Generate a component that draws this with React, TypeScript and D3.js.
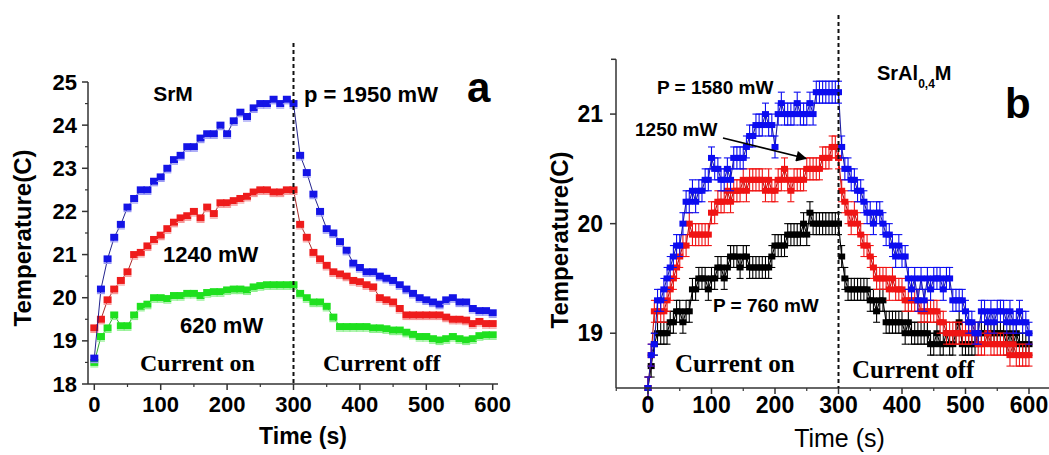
import React from 'react';
import * as d3 from 'd3';

// ---------- Panel a (SrM) : sampled every 10 s ----------
const timeA = d3.range(0, 601, 10);
const blueA = [18.6, 20.2, 20.9, 21.4, 21.7, 22.1, 22.3, 22.5, 22.5, 22.7, 22.8, 23.0, 23.2, 23.3, 23.5, 23.5, 23.7, 23.8, 23.8, 24.0, 23.8, 24.1, 24.3, 24.2, 24.4, 24.5, 24.5, 24.6, 24.5, 24.6, 24.5,
  23.3, 22.9, 22.4, 22.0, 21.6, 21.5, 21.3, 21.1, 20.8, 20.7, 20.6, 20.6, 20.5, 20.45, 20.4, 20.3, 20.2, 20.1, 20.0, 19.95, 19.9, 19.85, 19.95, 20.0, 19.9, 19.9, 19.75, 19.7, 19.7, 19.65];
const redA = [19.3, 19.5, 19.95, 20.2, 20.4, 20.6, 21.0, 21.05, 21.2, 21.35, 21.45, 21.6, 21.75, 21.85, 21.9, 22.0, 21.85, 22.1, 21.95, 22.2, 22.2, 22.25, 22.3, 22.35, 22.45, 22.5, 22.5, 22.45, 22.45, 22.5, 22.5,
  21.7, 21.4, 21.05, 20.9, 20.75, 20.6, 20.55, 20.5, 20.4, 20.37, 20.3, 20.25, 20.0, 19.95, 19.9, 19.75, 19.6, 19.6, 19.6, 19.6, 19.6, 19.6, 19.55, 19.5, 19.5, 19.48, 19.4, 19.45, 19.4, 19.4];
const greenA = [18.5, 19.1, 19.3, 19.6, 19.35, 19.35, 19.6, 19.8, 19.85, 20.0, 20.0, 19.98, 20.05, 20.05, 20.1, 20.1, 20.05, 20.12, 20.14, 20.14, 20.18, 20.2, 20.2, 20.18, 20.25, 20.28, 20.3, 20.3, 20.3, 20.3, 20.3,
  20.1, 20.0, 19.9, 19.9, 19.8, 19.55, 19.33, 19.33, 19.33, 19.33, 19.33, 19.3, 19.3, 19.28, 19.25, 19.25, 19.2, 19.15, 19.1, 19.1, 19.05, 19.02, 19.05, 19.1, 19.05, 19.02, 19.05, 19.12, 19.14, 19.14];

// ---------- Panel b (SrAl0,4M) : sampled every 5 s ----------
const timeB = d3.range(0, 601, 5);
const blueB = [18.5, 18.8, 18.9, 19.3, 19.3, 19.4, 19.5, 19.6, 19.7, 19.8, 19.8, 20.0, 20.2, 20.2, 20.3, 20.2, 20.3, 20.3, 20.4, 20.4,
  20.6, 20.5, 20.5, 20.4, 20.4, 20.5, 20.4, 20.6, 20.6, 20.6, 20.6, 20.7, 20.8, 20.8, 20.9, 20.9, 20.9, 21.0, 20.9, 20.9,
  20.7, 21.0, 21.1, 21.0, 21.0, 21.0, 21.0, 21.1, 21.0, 21.0, 21.0, 21.1, 21.0, 21.2, 21.2, 21.2, 21.2, 21.2, 21.2, 21.2, 21.2,
  20.7, 20.5, 20.5, 20.4, 20.4, 20.3, 20.3, 20.2, 20.1, 20.1, 20.0, 20.1, 20.1, 20.0, 19.9, 19.9, 19.8, 19.7, 19.8, 19.7,
  19.7, 19.5, 19.4, 19.5, 19.3, 19.5, 19.3, 19.5, 19.4, 19.5, 19.5, 19.5, 19.4, 19.5, 19.5, 19.3, 19.3, 19.3, 19.3, 19.2,
  19.1, 19.1, 19.0, 19.0, 19.2, 19.2, 19.1, 19.2, 19.1, 19.2, 19.2, 19.2, 19.1, 19.2, 19.1, 19.1, 19.2, 19.1, 19.1, 19.0];
const redB = [18.5, 18.8, 19.2, 19.2, 19.2, 19.2, 19.3, 19.4, 19.5, 19.6, 19.7, 19.8, 19.8, 20.0, 19.9, 19.9, 19.9, 19.9, 19.9, 19.9,
  20.1, 20.1, 20.2, 20.2, 20.2, 20.3, 20.2, 20.3, 20.3, 20.3, 20.4, 20.3, 20.4, 20.4, 20.4, 20.4, 20.4, 20.3, 20.4, 20.3,
  20.3, 20.4, 20.4, 20.5, 20.4, 20.3, 20.4, 20.4, 20.4, 20.4, 20.5, 20.5, 20.5, 20.5, 20.5, 20.6, 20.6, 20.6, 20.7, 20.7, 20.6,
  20.3, 20.2, 20.1, 20.0, 20.1, 20.0, 19.9, 19.8, 19.8, 19.7, 19.6, 19.5, 19.5, 19.5, 19.5, 19.4, 19.5, 19.4, 19.4, 19.4,
  19.3, 19.3, 19.3, 19.3, 19.3, 19.2, 19.2, 19.2, 19.2, 19.2, 19.2, 19.1, 19.1, 19.0, 19.0, 19.0, 19.0, 19.0, 19.0, 19.0,
  19.0, 19.0, 19.0, 18.9, 18.9, 18.9, 19.0, 18.9, 18.9, 18.9, 18.9, 18.9, 18.9, 18.8, 18.9, 18.8, 18.8, 18.8, 18.8, 18.8];
const blackB = [18.5, 18.7, 18.9, 19.0, 19.0, 19.0, 19.0, 19.1, 19.1, 19.2, 19.2, 19.1, 19.2, 19.2, 19.4, 19.4, 19.5, 19.5, 19.5, 19.4,
  19.5, 19.5, 19.6, 19.6, 19.5, 19.6, 19.7, 19.7, 19.7, 19.6, 19.7, 19.7, 19.6, 19.6, 19.6, 19.6, 19.6, 19.6, 19.6, 19.7,
  19.8, 19.8, 19.8, 19.8, 19.9, 19.9, 19.9, 19.9, 19.9, 20.0, 19.9, 20.1, 20.0, 20.0, 20.0, 20.0, 20.0, 20.0, 20.0, 20.0, 20.0,
  19.7, 19.5, 19.4, 19.4, 19.4, 19.4, 19.4, 19.4, 19.4, 19.3, 19.3, 19.2, 19.3, 19.3, 19.1, 19.1, 19.1, 19.1, 19.1, 19.1,
  19.0, 19.1, 19.0, 19.0, 19.0, 19.0, 19.0, 19.0, 18.9, 18.9, 19.0, 18.9, 18.9, 19.0, 18.9, 18.9, 19.0, 19.1, 18.9, 18.9,
  18.9, 18.9, 18.9, 19.0, 19.0, 19.0, 19.0, 19.0, 19.0, 19.0, 19.0, 19.0, 18.9, 19.0, 18.9, 19.0, 18.9, 18.9, 18.9, 18.9];
const errB = 0.1;

const xTicks = [0, 100, 200, 300, 400, 500, 600];
const xMinorA = [50, 150, 250, 350, 450, 550];
const xMinorB = [-50, 50, 150, 250, 350, 450, 550, 650];
const yTicksA = [18, 19, 20, 21, 22, 23, 24, 25];
const yMinorA = [18.5, 19.5, 20.5, 21.5, 22.5, 23.5, 24.5];
const yTicksB = [19, 20, 21];

const SANS = '"Liberation Sans", Arial, sans-serif';
const SERIF = '"Liberation Serif", "Times New Roman", serif';

export default function App() {
  // panel a scales
  const xa = d3.scaleLinear().domain([0, 600]).range([94.3, 492.7]);
  const ya = d3.scaleLinear().domain([18, 25]).range([384, 82]);
  const axL = 88, axR = 498;
  // panel b scales
  const xb = d3.scaleLinear().domain([0, 600]).range([648, 1029]);
  const yb = d3.scaleLinear().domain([18.5, 21.5]).range([388, 59.3]);
  const bxL = 616, bxR = 1060;

  const lineA = (vals: number[]) =>
    d3.line<number>().x((_, i) => xa(timeA[i])).y((v) => ya(v))(vals) || '';
  const lineB = (vals: number[]) =>
    d3.line<number>().x((_, i) => xb(timeB[i])).y((v) => yb(v))(vals) || '';

  const seriesA = [
    { vals: greenA, fill: '#1fe01f', light: '#8ff08f', line: '#12a012' },
    { vals: redA, fill: '#ee1c1c', light: '#f59a9a', line: '#a01010' },
    { vals: blueA, fill: '#1414e6', light: '#9a9af5', line: '#0a0a80' },
  ];
  const seriesB = [
    { vals: blackB, fill: '#000000', line: '#000000' },
    { vals: redB, fill: '#f01414', line: '#c01010' },
    { vals: blueB, fill: '#0c0cf0', line: '#2020a0' },
  ];

  return (
    <svg width={1049} height={455} style={{ position: 'absolute', left: 0, top: 0, background: '#fff' }}>
      {/* ================= Panel a ================= */}
      <g>
        {seriesA.map((s, k) => (
          <g key={'a' + k}>
            <path d={lineA(s.vals)} fill="none" stroke={s.line} strokeWidth={0.9} />
            {s.vals.map((v, i) => (
              <g key={i}>
                <line x1={xa(timeA[i]) - 4} x2={xa(timeA[i]) + 4} y1={ya(v) + 4.5} y2={ya(v) + 4.5} stroke={s.light} strokeWidth={1.2} />
                <rect x={xa(timeA[i]) - 4} y={ya(v) - 3.5} width={8} height={7} fill={s.fill} />
              </g>
            ))}
          </g>
        ))}
        {/* axes */}
        <line x1={axL} x2={axL} y1={82} y2={384} stroke="#333" strokeWidth={1.5} />
        <line x1={axL} x2={axR} y1={384} y2={384} stroke="#333" strokeWidth={1.5} />
        {yTicksA.map((t) => (
          <g key={'ya' + t}>
            <line x1={axL - 6} x2={axL} y1={ya(t)} y2={ya(t)} stroke="#333" strokeWidth={1.5} />
            <text x={77} y={ya(t) + 7.5} textAnchor="end" fontFamily={SANS} fontWeight="bold" fontSize={22}>{t}</text>
          </g>
        ))}
        {yMinorA.map((t) => (
          <line key={'yma' + t} x1={axL - 3} x2={axL} y1={ya(t)} y2={ya(t)} stroke="#333" strokeWidth={1.2} />
        ))}
        {xTicks.map((t) => (
          <g key={'xa' + t}>
            <line x1={xa(t)} x2={xa(t)} y1={384} y2={390} stroke="#333" strokeWidth={1.5} />
            <text x={xa(t)} y={412} textAnchor="middle" fontFamily={SANS} fontWeight="bold" fontSize={22}>{t}</text>
          </g>
        ))}
        {xMinorA.map((t) => (
          <line key={'xma' + t} x1={xa(t)} x2={xa(t)} y1={384} y2={387} stroke="#333" strokeWidth={1.2} />
        ))}
        <line x1={xa(300)} x2={xa(300)} y1={43} y2={384} stroke="#111" strokeWidth={2} strokeDasharray="4,3" />
        <text x={303} y={444} textAnchor="middle" fontFamily={SANS} fontWeight="bold" fontSize={23}>Time (s)</text>
        <text transform="translate(31,238) rotate(-90)" textAnchor="middle" fontFamily={SANS} fontWeight="bold" fontSize={24}>Temperature(C)</text>
        <text x={173} y={101} textAnchor="middle" fontFamily={SANS} fontWeight="bold" fontSize={21}>SrM</text>
        <text x={304} y={102} fontFamily={SANS} fontWeight="bold" fontSize={22}>p = 1950 mW</text>
        <text x={467} y={102} fontFamily={SANS} fontWeight="bold" fontSize={42}>a</text>
        <text x={163} y={262} fontFamily={SANS} fontWeight="bold" fontSize={22}>1240 mW</text>
        <text x={180} y={333} fontFamily={SANS} fontWeight="bold" fontSize={22}>620 mW</text>
        <text x={140} y={371} fontFamily={SERIF} fontWeight="bold" fontSize={24}>Current on</text>
        <text x={323} y={371} fontFamily={SERIF} fontWeight="bold" fontSize={24}>Current off</text>
      </g>

      {/* ================= Panel b ================= */}
      <g>
        {seriesB.map((s, k) => (
          <g key={'b' + k}>
            <path d={lineB(s.vals)} fill="none" stroke={s.line} strokeWidth={1.1} />
            {s.vals.map((v, i) => {
              const cx = xb(timeB[i]);
              return (
                <g key={i}>
                  <line x1={cx} x2={cx} y1={yb(v - errB)} y2={yb(v + errB)} stroke={s.fill} strokeWidth={1.1} />
                  <line x1={cx - 3.5} x2={cx + 3.5} y1={yb(v + errB)} y2={yb(v + errB)} stroke={s.fill} strokeWidth={1.1} />
                  <line x1={cx - 3.5} x2={cx + 3.5} y1={yb(v - errB)} y2={yb(v - errB)} stroke={s.fill} strokeWidth={1.1} />
                </g>
              );
            })}
            {s.vals.map((v, i) => (
              <rect key={'r' + i} x={xb(timeB[i]) - 3.5} y={yb(v) - 3} width={7} height={6} fill={s.fill} />
            ))}
          </g>
        ))}
        <line x1={bxL} x2={bxL} y1={59.3} y2={388} stroke="#333" strokeWidth={1.5} />
        <line x1={bxL - 5} x2={bxL} y1={59.3} y2={59.3} stroke="#333" strokeWidth={1.5} />
        <line x1={bxL} x2={bxR} y1={388} y2={388} stroke="#333" strokeWidth={1.5} />
        {yTicksB.map((t) => (
          <g key={'yb' + t}>
            <line x1={bxL - 6} x2={bxL} y1={yb(t)} y2={yb(t)} stroke="#333" strokeWidth={1.5} />
            <text x={603} y={yb(t) + 8} textAnchor="end" fontFamily={SANS} fontWeight="bold" fontSize={23}>{t}</text>
          </g>
        ))}
        {xTicks.map((t) => (
          <g key={'xb' + t}>
            <line x1={xb(t)} x2={xb(t)} y1={388} y2={394} stroke="#333" strokeWidth={1.5} />
            <text x={xb(t)} y={413} textAnchor="middle" fontFamily={SANS} fontWeight="bold" fontSize={23}>{t}</text>
          </g>
        ))}
        {xMinorB.map((t) => (
          <line key={'xmb' + t} x1={xb(t)} x2={xb(t)} y1={388} y2={391} stroke="#333" strokeWidth={1.2} />
        ))}
        <line x1={xb(300)} x2={xb(300)} y1={15} y2={388} stroke="#111" strokeWidth={2} strokeDasharray="4,3" />
        <text x={839.5} y={447} textAnchor="middle" fontFamily={SANS} fontSize={25}>Time (s)</text>
        <text transform="translate(568,240) rotate(-90)" textAnchor="middle" fontFamily={SANS} fontWeight="bold" fontSize={24}>Temperature(C)</text>
        <text x={657} y={94} fontFamily={SANS} fontWeight="bold" fontSize={19}>P = 1580 mW</text>
        <text x={635} y={136} fontFamily={SANS} fontWeight="bold" fontSize={19}>1250 mW</text>
        <text x={713} y={312} fontFamily={SANS} fontWeight="bold" fontSize={19}>P = 760 mW</text>
        <text x={877} y={80} fontFamily={SANS} fontWeight="bold" fontSize={20}>
          SrAl<tspan fontSize={12} dy={8}>0,4</tspan><tspan dy={-8}>M</tspan>
        </text>
        <text x={1005} y={118} fontFamily={SANS} fontWeight="bold" fontSize={42}>b</text>
        <defs>
          <marker id="arrowhead" viewBox="0 0 10 10" refX={9} refY={5} markerWidth={7} markerHeight={6} orient="auto">
            <path d="M0,0 L10,5 L0,10 z" fill="#000" />
          </marker>
        </defs>
        <line x1={723} y1={138} x2={806} y2={158.5} stroke="#000" strokeWidth={1.8} markerEnd="url(#arrowhead)" />
        <text x={675} y={372} fontFamily={SERIF} fontWeight="bold" fontSize={25}>Current on</text>
        <text x={852} y={378} fontFamily={SERIF} fontWeight="bold" fontSize={25}>Current off</text>
      </g>
    </svg>
  );
}
